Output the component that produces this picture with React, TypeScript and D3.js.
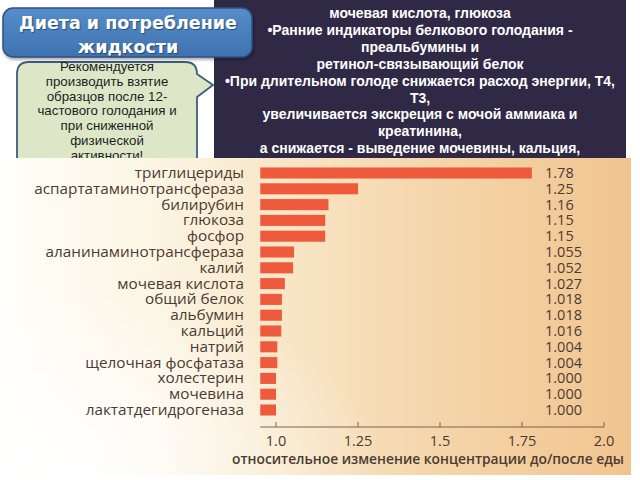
import React from "react";
import * as d3 from "d3";

const categories = [
  "триглицериды",
  "аспартатаминотрансфераза",
  "билирубин",
  "глюкоза",
  "фосфор",
  "аланинаминотрансфераза",
  "калий",
  "мочевая кислота",
  "общий белок",
  "альбумин",
  "кальций",
  "натрий",
  "щелочная фосфатаза",
  "холестерин",
  "мочевина",
  "лактатдегидрогеназа",
];
const values = [1.78, 1.25, 1.16, 1.15, 1.15, 1.055, 1.052, 1.027, 1.018, 1.018, 1.016, 1.004, 1.004, 1.0, 1.0, 1.0];
const valueLabels = ["1.78", "1.25", "1.16", "1.15", "1.15", "1.055", "1.052", "1.027", "1.018", "1.018", "1.016", "1.004", "1.004", "1.000", "1.000", "1.000"];
const ticks = [1.0, 1.25, 1.5, 1.75, 2.0];
const tickLabels = ["1.0", "1.25", "1.5", "1.75", "2.0"];
const axisTitle = "относительное изменение концентрации до/после еды";
const barBase = 0.952;

const titleLines = ["Диета и потребление", "жидкости"];
const calloutLines = [
  "Рекомендуется",
  "производить взятие",
  "образцов после 12-",
  "частового голодания и",
  "при сниженной",
  "физической",
  "активности!",
];
const boxLines = [
  "мочевая кислота, глюкоза",
  "•Ранние индикаторы белкового голодания -",
  "преальбумины и",
  "ретинол-связывающий белок",
  "•При длительном голоде снижается расход энергии, T4,",
  "T3,",
  "увеличивается экскреция с мочой аммиака и",
  "креатинина,",
  "а снижается  - выведение мочевины, кальция,",
];

export default function App() {
  const x = d3.scaleLinear().domain([1, 2]).range([276, 604]);
  const y = d3
    .scaleBand<string>()
    .domain(categories)
    .range([165.1, 417.9])
    .paddingInner(0.3)
    .paddingOuter(0.15);
  const textColor = "#4a3b33";
  const chartFont = "'Open Sans', sans-serif";

  return (
    <svg
      width={640}
      height={480}
      style={{ position: "absolute", left: 0, top: 0, background: "#ffffff" }}
    >
      <defs>
        <linearGradient id="photo" x1="0" y1="0" x2="1" y2="0">
          <stop offset="0" stopColor="#fffef9" />
          <stop offset="0.25" stopColor="#fcf5e3" />
          <stop offset="0.45" stopColor="#f8e6c6" />
          <stop offset="0.7" stopColor="#f5d5aa" />
          <stop offset="1" stopColor="#f1c48f" />
        </linearGradient>
        <radialGradient id="fade" cx="0.05" cy="0.95" r="0.55">
          <stop offset="0" stopColor="#ffffff" stopOpacity="1" />
          <stop offset="1" stopColor="#ffffff" stopOpacity="0" />
        </radialGradient>
        <linearGradient id="blue" x1="0" y1="0" x2="0" y2="1">
          <stop offset="0" stopColor="#558dca" />
          <stop offset="1" stopColor="#3f72b0" />
        </linearGradient>
        <filter id="shadow" x="-10%" y="-10%" width="130%" height="140%">
          <feDropShadow dx="1" dy="2" stdDeviation="1.5" floodColor="#000" floodOpacity="0.35" />
        </filter>
      </defs>

      {/* dark info box */}
      <rect x={214} y={0} width={412} height={160} fill="#2f2946" />
      {boxLines.map((t, i) => (
        <text
          key={i}
          x={420}
          y={18 + i * 16.9}
          textAnchor="middle"
          fill="#ffffff"
          fontFamily="'Liberation Sans', Arial, sans-serif"
          fontWeight="bold"
          fontSize={14}
        >
          {t}
        </text>
      ))}

      {/* callout */}
      <path
        d="M29,62 H185 Q197,62 197,74 V74 L213,85 L197,97 V170 H17 V74 Q17,62 29,62 Z"
        fill="#dde7c7"
        stroke="#3d5d7f"
        strokeWidth={1.8}
      />
      {calloutLines.map((t, i) => (
        <text
          key={i}
          x={107}
          y={71 + i * 14.8}
          textAnchor="middle"
          fill="#1e1e1e"
          fontFamily="'Liberation Sans', Arial, sans-serif"
          fontSize={13.3}
        >
          {t}
        </text>
      ))}

      {/* title box */}
      <rect
        x={3}
        y={8}
        width={249}
        height={49}
        rx={10}
        fill="url(#blue)"
        stroke="#2c5283"
        strokeWidth={1.5}
        filter="url(#shadow)"
      />
      {titleLines.map((t, i) => (
        <text
          key={i}
          x={128}
          y={29 + i * 24}
          textAnchor="middle"
          fill="#ffffff"
          fontFamily="'DejaVu Sans', Verdana, sans-serif"
          fontWeight="bold"
          fontSize={17.5}
          style={{ textShadow: "1px 1px 1px rgba(0,0,0,0.4)" }}
        >
          {t}
        </text>
      ))}

      {/* chart photo */}
      <rect x={0} y={158} width={631} height={317} fill="url(#photo)" />
      <rect x={0} y={158} width={631} height={317} fill="url(#fade)" />

      {categories.map((c, i) => {
        const yy = y(c)!;
        const bw = y.bandwidth();
        return (
          <g key={c}>
            <text
              x={244}
              y={yy + bw / 2 + 5}
              textAnchor="end"
              fill={textColor}
              fontFamily={chartFont}
              fontSize={15.3}
            >
              {c}
            </text>
            <rect
              x={x(barBase)}
              y={yy}
              width={x(values[i]) - x(barBase)}
              height={bw}
              fill="#ef5a3c"
            />
            <text
              x={545}
              y={yy + bw / 2 + 5}
              fill={textColor}
              fontFamily={chartFont}
              fontSize={14.5}
            >
              {valueLabels[i]}
            </text>
          </g>
        );
      })}

      {/* axis */}
      <line x1={x(barBase)} x2={x(2)} y1={427} y2={427} stroke="#7a6553" strokeWidth={1.2} />
      {ticks.map((t, i) => (
        <g key={t}>
          <line x1={x(t)} x2={x(t)} y1={422} y2={427} stroke="#7a6553" strokeWidth={1} />
          <text
            x={x(t)}
            y={446}
            textAnchor="middle"
            fill={textColor}
            fontFamily={chartFont}
            fontSize={14.5}
          >
            {tickLabels[i]}
          </text>
        </g>
      ))}
      <text
        x={428}
        y={464}
        textAnchor="middle"
        fill={textColor}
        fontFamily={chartFont}
        fontWeight={600}
        fontSize={13.8}
      >
        {axisTitle}
      </text>
    </svg>
  );
}
